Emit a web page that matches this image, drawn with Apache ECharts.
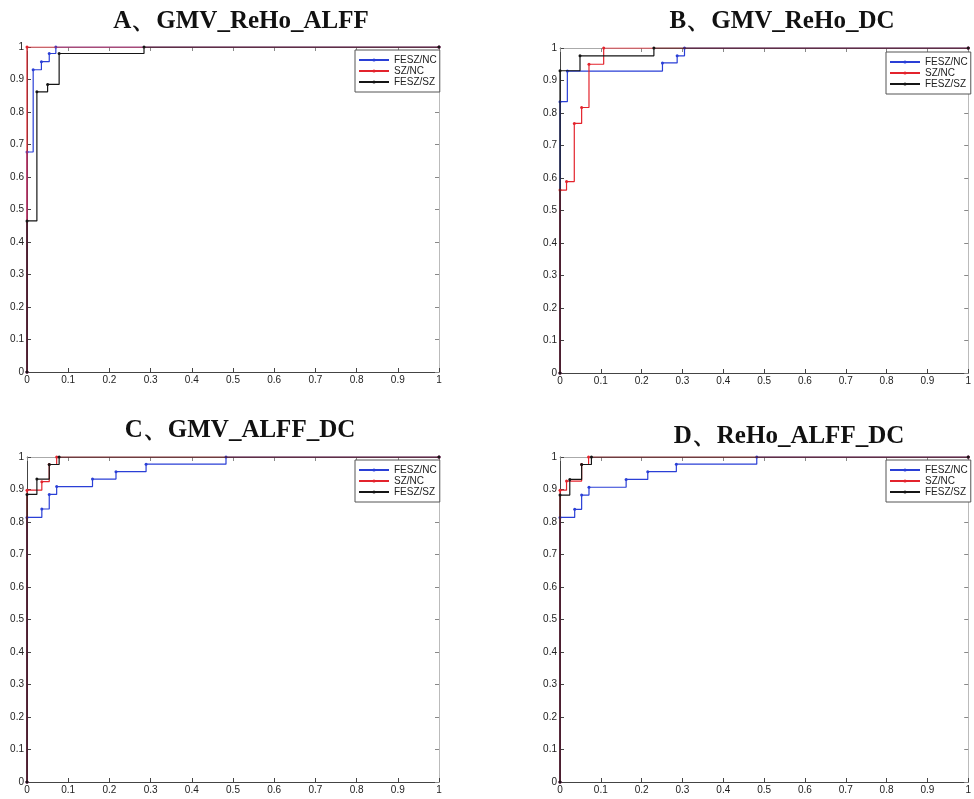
<!DOCTYPE html>
<html><head><meta charset="utf-8">
<script src="https://cdn.jsdelivr.net/npm/echarts@6/dist/echarts.min.js"></script>
<style>html,body{margin:0;padding:0;background:#fff}#c{width:974px;height:799px}</style>
</head><body><div id="c"></div>
<script>
// Panel titles
const titles = ['A、GMV_ReHo_ALFF', 'B、GMV_ReHo_DC', 'C、GMV_ALFF_DC', 'D、ReHo_ALFF_DC'];
const seriesNames = ['FESZ/NC', 'SZ/NC', 'FESZ/SZ'];
const tickValues = [0, 0.1, 0.2, 0.3, 0.4, 0.5, 0.6, 0.7, 0.8, 0.9, 1];

// ROC step points [FPR, TPR] (drawn with step:'end')
// Panel A
const A_FESZ_NC = [[0,0],[0,0.677],[0.015,0.93],[0.035,0.955],[0.054,0.98],[0.07,1],[1,1]];
const A_SZ_NC   = [[0,0],[0,1],[1,1]];
const A_FESZ_SZ = [[0,0],[0,0.465],[0.024,0.862],[0.05,0.885],[0.078,0.98],[0.284,1],[1,1]];
// Panel B
const B_FESZ_NC = [[0,0],[0,0.835],[0.018,0.929],[0.251,0.954],[0.287,0.976],[0.305,1],[1,1]];
const B_SZ_NC   = [[0,0],[0,0.563],[0.016,0.589],[0.035,0.768],[0.053,0.817],[0.071,0.95],[0.107,1],[1,1]];
const B_FESZ_SZ = [[0,0],[0,0.93],[0.049,0.976],[0.23,1],[1,1]];
// Panel C
const C_FESZ_NC = [[0,0],[0,0.814],[0.036,0.84],[0.054,0.885],[0.072,0.909],[0.159,0.932],[0.216,0.955],[0.289,0.978],[0.483,1],[1,1]];
const C_SZ_NC   = [[0,0],[0,0.898],[0.036,0.924],[0.054,0.977],[0.072,1],[1,1]];
const C_FESZ_SZ = [[0,0],[0,0.885],[0.024,0.932],[0.054,0.977],[0.078,1],[1,1]];
// Panel D
const D_FESZ_NC = [[0,0],[0,0.814],[0.036,0.839],[0.053,0.883],[0.071,0.907],[0.162,0.931],[0.215,0.955],[0.285,0.978],[0.482,1],[1,1]];
const D_SZ_NC   = [[0,0],[0,0.898],[0.016,0.926],[0.053,0.977],[0.07,1],[1,1]];
const D_FESZ_SZ = [[0,0],[0,0.883],[0.024,0.931],[0.053,0.977],[0.077,1],[1,1]];

const panelData = [
  [A_FESZ_NC, A_SZ_NC, A_FESZ_SZ],
  [B_FESZ_NC, B_SZ_NC, B_FESZ_SZ],
  [C_FESZ_NC, C_SZ_NC, C_FESZ_SZ],
  [D_FESZ_NC, D_SZ_NC, D_FESZ_SZ]
];

// layout
const grids = [
  {left: 27, top: 47, width: 412, height: 325},
  {left: 560, top: 48, width: 412, height: 325},
  {left: 27, top: 457, width: 412, height: 325},
  {left: 560, top: 457, width: 413, height: 325}
];
const titlePos = [[236, 4], [777, 4], [235, 413], [784, 419]];
const legendPos = [[355, 50], [886, 52], [355, 460], [886, 460]];
const colors = ['#2a3fd6', '#e3232c', '#151515'];

const chart = echarts.init(document.getElementById('c'));
const option = {
  animation: false,
  backgroundColor: '#fff',
  title: titles.map((t, i) => ({
    text: t, left: titlePos[i][0], top: titlePos[i][1], textAlign: 'center',
    textStyle: {fontFamily: '"Liberation Serif", "Times New Roman", serif', fontWeight: 'bold', fontSize: 25, color: '#111'}
  })),
  grid: grids.map(g => Object.assign({containLabel: false}, g)),
  legend: legendPos.map((p, i) => ({
    left: p[0], top: p[1], orient: 'vertical', data: seriesNames,
    backgroundColor: '#fff', borderColor: '#555', borderWidth: 1, borderRadius: 0,
    padding: [5, 3, 5, 3], itemGap: 1, itemWidth: 30, itemHeight: 4,
    textStyle: {fontFamily: '"Liberation Sans", Arial, sans-serif', fontSize: 10, color: '#222'}
  })),
  xAxis: [],
  yAxis: [],
  series: []
};
for (let i = 0; i < 4; i++) {
  const common = {type: 'value', min: 0, max: 1, interval: 0.1, gridIndex: i, splitLine: {show: false}};
  option.xAxis.push(Object.assign({}, common, {
    position: 'bottom',
    axisLine: {show: true, onZero: false, lineStyle: {color: '#444', width: 1}},
    axisTick: {show: true, inside: true, length: 4, lineStyle: {color: '#444'}},
    axisLabel: {show: true, margin: 3, fontSize: 10, color: '#222', fontFamily: '"Liberation Sans", Arial, sans-serif',
      formatter: v => String(Math.round(v * 10) / 10)}
  }));
  option.xAxis.push(Object.assign({}, common, {
    position: 'top',
    axisLine: {show: true, onZero: false, lineStyle: {color: '#aaa', width: 1}},
    axisTick: {show: true, inside: true, length: 4, lineStyle: {color: '#888'}},
    axisLabel: {show: false}
  }));
  option.yAxis.push(Object.assign({}, common, {
    position: 'left',
    axisLine: {show: true, onZero: false, lineStyle: {color: '#444', width: 1}},
    axisTick: {show: true, inside: true, length: 4, lineStyle: {color: '#444'}},
    axisLabel: {show: true, margin: 3, fontSize: 10, color: '#222', fontFamily: '"Liberation Sans", Arial, sans-serif',
      formatter: v => String(Math.round(v * 10) / 10)}
  }));
  option.yAxis.push(Object.assign({}, common, {
    position: 'right',
    axisLine: {show: true, onZero: false, lineStyle: {color: '#bbb', width: 1}},
    axisTick: {show: true, inside: true, length: 4, lineStyle: {color: '#888'}},
    axisLabel: {show: false}
  }));
  panelData[i].forEach((d, k) => {
    option.series.push({
      name: seriesNames[k], type: 'line', step: 'end',
      xAxisIndex: i * 2, yAxisIndex: i * 2,
      data: d, symbol: 'circle', symbolSize: 3, showSymbol: true,
      lineStyle: {color: colors[k], width: 1.2},
      itemStyle: {color: colors[k]},
      z: 3 + k
    });
  });
}
chart.setOption(option);
</script>
</body></html>
